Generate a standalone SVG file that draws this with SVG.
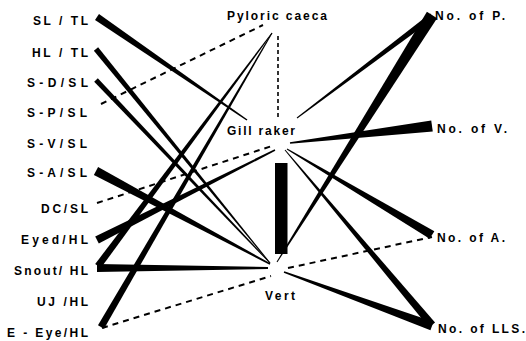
<svg xmlns="http://www.w3.org/2000/svg" width="526" height="341" viewBox="0 0 526 341">
<style>
text{font-family:"Liberation Sans",Arial,sans-serif;font-size:12px;font-weight:bold;fill:#000}
.w{fill:#000;stroke:none}
.d{fill:none;stroke:#000;stroke-width:2;stroke-dasharray:6 5}
.dv{fill:none;stroke:#000;stroke-width:1.6;stroke-dasharray:4 3}
</style>
<rect width="526" height="341" fill="#fff"/>
<g id="connectors">
<polygon class="w" points="95.02,19.88 246.58,120.62 247.42,119.38 98.98,14.12"/>
<polygon class="w" points="93.87,50.74 269.61,263.32 270.39,262.68 98.13,47.26"/>
<polygon class="w" points="94.19,81.72 269.64,263.34 270.36,262.66 97.81,78.28"/>
<polygon class="w" points="93.88,174.97 269.65,264.66 270.35,263.34 98.12,167.03"/>
<polygon class="w" points="98.80,243.57 275.34,150.67 274.66,149.33 95.20,236.43"/>
<polygon class="w" points="97,272 268,269 268,267 97,264"/>
<polygon class="w" points="100.80,268.09 272.40,33.30 271.60,32.70 95.20,263.91"/>
<polygon class="w" points="104.03,328.76 272.43,33.25 271.57,32.75 97.97,325.24"/>
<polygon class="w" points="430.19,13.61 296.70,117.60 297.30,118.40 433.81,18.39"/>
<polygon class="w" points="426.92,11.81 276.58,261.73 277.42,262.27 437.08,18.19"/>
<polygon class="w" points="431.24,120.55 289.90,142.26 290.10,143.74 432.76,131.45"/>
<polygon class="w" points="434.34,231.15 287.26,148.57 286.74,149.43 429.66,238.85"/>
<polygon class="w" points="435.06,322.43 285.38,149.68 284.62,150.32 428.94,327.57"/>
<polygon class="w" points="433.54,321.77 284.26,271.29 283.74,272.71 430.46,330.23"/>
<line class="d" x1="101" y1="104" x2="263" y2="25"/>
<line class="d" x1="97" y1="203" x2="272" y2="146"/>
<line class="d" x1="102" y1="328" x2="271" y2="276"/>
<line class="d" x1="288" y1="268" x2="432" y2="237"/>
<line class="dv" x1="278" y1="36" x2="278" y2="120"/>
<rect class="w" x="275" y="163" width="12.5" height="91"/>
</g>
<g id="sl-tl"><text x="33" y="25" textLength="55" lengthAdjust="spacing">SL / TL</text></g>
<g id="hl-tl"><text x="32" y="57" textLength="56" lengthAdjust="spacing">HL / TL</text></g>
<g id="s-d-sl"><text x="27" y="87" textLength="61" lengthAdjust="spacing">S-D/SL</text></g>
<g id="s-p-sl"><text x="27" y="117" textLength="60" lengthAdjust="spacing">S-P/SL</text></g>
<g id="s-v-sl"><text x="27" y="148" textLength="60" lengthAdjust="spacing">S-V/SL</text></g>
<g id="s-a-sl"><text x="27" y="177" textLength="60" lengthAdjust="spacing">S-A/SL</text></g>
<g id="dc-sl"><text x="41" y="213" textLength="47" lengthAdjust="spacing">DC/SL</text></g>
<g id="eyed-hl"><text x="21" y="244" textLength="67" lengthAdjust="spacing">Eyed/HL</text></g>
<g id="snout-hl"><text x="14" y="275" textLength="74" lengthAdjust="spacing">Snout/ HL</text></g>
<g id="uj-hl"><text x="37" y="306" textLength="51" lengthAdjust="spacing">UJ /HL</text></g>
<g id="e-eye-hl"><text x="7" y="337" textLength="81" lengthAdjust="spacing">E - Eye/HL</text></g>
<g id="pyloric-caeca"><text x="227" y="20" textLength="100" lengthAdjust="spacing">Pyloric caeca</text></g>
<g id="gill-raker"><text x="227" y="135" textLength="68" lengthAdjust="spacing">Gill raker</text></g>
<g id="vert"><text x="265" y="300" textLength="30" lengthAdjust="spacing">Vert</text></g>
<g id="no-p"><text x="435" y="20" textLength="70" lengthAdjust="spacing">No. of P.</text></g>
<g id="no-v"><text x="437" y="133" textLength="70" lengthAdjust="spacing">No. of V.</text></g>
<g id="no-a"><text x="437" y="242" textLength="68" lengthAdjust="spacing">No. of A.</text></g>
<g id="no-lls"><text x="438" y="333" textLength="87" lengthAdjust="spacing">No. of LLS.</text></g>
</svg>
